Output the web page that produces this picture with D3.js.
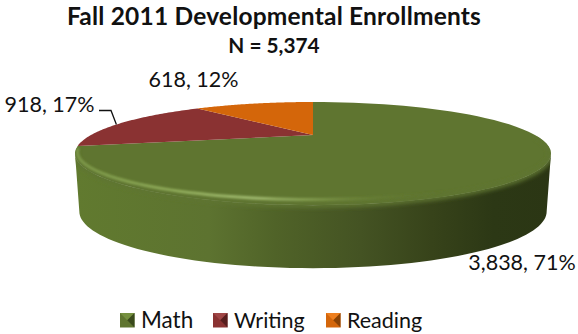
<!DOCTYPE html>
<html>
<head>
<meta charset="utf-8">
<script src="https://d3js.org/d3.v7.min.js"></script>
<style>
html,body{margin:0;padding:0;background:#fff;}
svg{display:block;}
text{font-family:Lato,"Open Sans",sans-serif;fill:#111;}
</style>
</head>
<body>
<svg id="chart" width="578" height="334"></svg>
<script>
const categories = ["Math", "Writing", "Reading"];
const enrollments = [3838, 918, 618];
const percentLabels = ["71%", "17%", "12%"];
const colors = ["#5f7530", "#8a3232", "#d4660a"];
const legendDark = ["#3a4a1c", "#571e1e", "#8a4204"];
const legendLight = ["#75903f", "#a04646", "#ee7f1e"];
const titleLines = ["Fall 2011 Developmental Enrollments", "N = 5,374"];

const svg = d3.select("#chart");
const defs = svg.append("defs");

// Perspective view of a flat disc: far side compressed, near side stretched.
const hub = {x: 313, y: 135};
const depth = 0.36, spreadY = 44.9, spreadX = 222, wall = 56;
function project(theta, sx = 1, sy = 1, drop = 0) {
  const u = Math.sin(theta), v = Math.cos(theta), d = 1 + depth * v;
  return [hub.x + sx * spreadX * u / d, hub.y + drop - sy * spreadY * v / d];
}
const sweep = (a, b, sx, sy, drop) => d3.range(0, 73).map(i => project(a + (b - a) * i / 72, sx, sy, drop));
const line = d3.line();

const slices = d3.pie().sort(null)(enrollments);
const edgeAngle = Math.acos(-depth);            // where the outline is widest
const frontStart = edgeAngle, frontEnd = 2 * Math.PI - edgeAngle;

// Side wall shading runs left to right across the near edge.
const gradX = {x1: hub.x - spreadX * 1.07, x2: hub.x + spreadX * 1.07};
const wallGrad = defs.append("linearGradient").attr("id", "wallGrad")
  .attr("gradientUnits", "userSpaceOnUse")
  .attr("x1", gradX.x1).attr("x2", gradX.x2).attr("y1", 0).attr("y2", 0);
[[0, "#617a2f"], [0.28, "#5d7330"], [0.42, "#506328"], [0.6, "#445323"], [0.75, "#37431a"], [0.88, "#2c3815"], [1, "#2b3614"]]
  .forEach(([o, c]) => wallGrad.append("stop").attr("offset", o).attr("stop-color", c));

const rimGrad = defs.append("linearGradient").attr("id", "rimGrad")
  .attr("gradientUnits", "userSpaceOnUse")
  .attr("x1", gradX.x1).attr("x2", gradX.x2).attr("y1", 0).attr("y2", 0);
[[0, "#7f9b4a", 0.9], [0.2, "#8fab5a", 1], [0.38, "#a0ba70", 1], [0.5, "#86a052", 0.8], [0.62, "#6f873c", 0.45], [0.78, "#5f7530", 0]]
  .forEach(([o, c, a]) => rimGrad.append("stop").attr("offset", o).attr("stop-color", c).attr("stop-opacity", a));

const blur = (id, sd) => defs.append("filter").attr("id", id)
  .attr("x", "-5%").attr("y", "-30%").attr("width", "110%").attr("height", "160%")
  .append("feGaussianBlur").attr("stdDeviation", sd);
blur("soft", 1);
blur("softer", 2);

// Near wall of the disc; the base outline is narrower but deeper than the top.
const wallPts = sweep(frontStart, frontEnd, 1, 1, 0).concat(sweep(frontEnd, frontStart, 0.982, 1.1, wall));
const disc = svg.append("g");
disc.append("path").attr("d", line(wallPts) + "Z").attr("fill", "url(#wallGrad)");

// Top face, one wedge per category.
const wedge = d => line([[hub.x, hub.y]].concat(sweep(d.startAngle, d.endAngle, 1, 1, 0))) + "Z";
disc.selectAll("path.slice").data(slices).join("path").attr("class", "slice")
  .attr("d", wedge)
  .attr("fill", (d, i) => colors[i]);

// Rounded bevel along the near rim, kept inside the Math wedge and its wall.
const rimClip = defs.append("clipPath").attr("id", "mathClip");
rimClip.append("path").attr("d", wedge(slices[0]));
rimClip.append("path").attr("d", line(wallPts) + "Z");
const rim = disc.append("g").attr("clip-path", "url(#mathClip)");
rim.append("path").attr("d", line(sweep(frontStart - 0.35, frontEnd + 0.1, 1, 1, 0))).attr("fill", "none")
  .attr("stroke", colors[0]).attr("stroke-width", 5).attr("filter", "url(#softer)");
rim.append("path").attr("d", line(sweep(frontStart, frontEnd + 0.08, 0.99, 0.92, 0))).attr("fill", "none")
  .attr("stroke", "url(#rimGrad)").attr("stroke-width", 3).attr("filter", "url(#soft)");

// Title.
titleLines.forEach((t, i) => {
  svg.append("text").attr("x", 274).attr("y", i ? 53 : 24.5).attr("text-anchor", "middle")
    .style("font-weight", 700).style("font-size", i ? "20.8px" : "24.5px")
    .style("letter-spacing", i ? "0" : "0.2px").text(t);
});

// Data labels.
const labelPos = [[522, 270], [49.5, 112], [193.5, 87]];
enrollments.forEach((v, i) => {
  svg.append("text").attr("x", labelPos[i][0]).attr("y", labelPos[i][1]).attr("text-anchor", "middle")
    .style("font-size", "21.5px").text(d3.format(",")(v) + ", " + percentLabels[i]);
});

// Leader from the Writing label down to the rim of its wedge.
const leaderEnd = project(slices[1].startAngle + 0.45 * (slices[1].endAngle - slices[1].startAngle));
svg.append("path").attr("fill", "none").attr("stroke", "#111").attr("stroke-width", 1.3)
  .attr("d", line([[99, 110.5], [111, 110.5], leaderEnd]));

// Legend with bevelled swatches.
const legendX = [120, 213, 326];
const g = svg.append("g");
categories.forEach((c, i) => {
  const x = legendX[i], y = 313, s = 14.5;
  const tri = (pts, fill) => g.append("path").attr("d", line(pts) + "Z").attr("fill", fill);
  tri([[x, y], [x + s, y], [x + s, y + s], [x, y + s]], colors[i]);
  tri([[x, y], [x + s, y], [x + s / 2, y + s / 2]], legendLight[i]);
  tri([[x + s, y], [x + s / 2, y + s / 2], [x + s, y + s]], legendDark[i]);
  g.append("text").attr("x", x + 21).attr("y", y + 15).style("font-size", i === 0 ? "22.5px" : "21.5px").text(c);
});
</script>
</body>
</html>
